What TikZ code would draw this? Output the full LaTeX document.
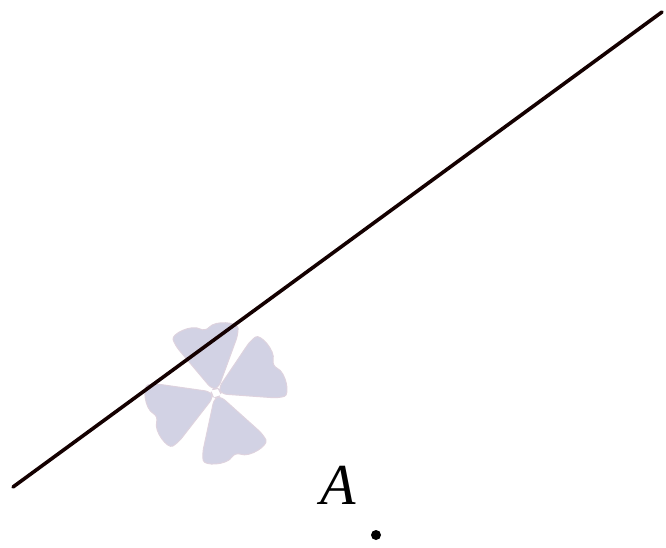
\documentclass[tikz,border=0pt]{standalone}
\usepackage{fontspec}
\setmainfont{Liberation Serif}
\begin{document}
\begin{tikzpicture}[x=1pt,y=1pt,
  petal/.style={fill={rgb,255:red,210;green,210;blue,228},draw={rgb,255:red,222;green,210;blue,222},line width=1pt,rounded corners=6pt},
  mainline/.style={line width=3.6pt,line cap=round,black!92!red},
  dot/.style={circle,fill=black,inner sep=0pt,minimum size=10pt}]
\useasboundingbox (0,0) rectangle (666,547);
% clover watermark
\foreach \a in {100,26,-72,-158}{
  \begin{scope}[shift={(216,154)},rotate=\a]
    \path[petal] (4,-3) -- (54,-32) .. controls (66,-34) and (72,-12) .. (62,0)
      .. controls (72,12) and (66,34) .. (54,32) -- (4,3) -- cycle;
  \end{scope}
}
\coordinate (L1) at (13,60);
\coordinate (L2) at (662,535);
\draw[mainline] (L1) -- (L2);
\node[dot] (A) at (376,12) {};
\node (Alab) at (338,62) {\fontsize{58}{60}\selectfont\textit{A}};
\end{tikzpicture}
\end{document}
